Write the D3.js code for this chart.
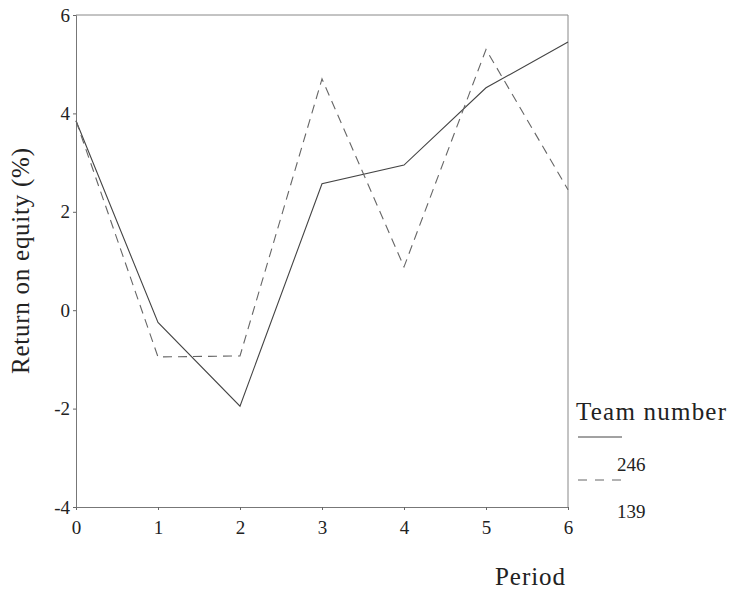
<!DOCTYPE html>
<html>
<head>
<meta charset="utf-8">
<script src="https://cdn.jsdelivr.net/npm/d3@7"></script>
<style>
  body { margin: 0; background: #fff; }
  text { font-family: "Liberation Serif", "DejaVu Serif", serif; fill: #222; }
</style>
</head>
<body>
<div id="container"></div>
<script>
// data
const periods = [0, 1, 2, 3, 4, 5, 6]
const team246 = [3.85, -0.25, -1.95, 2.57, 2.95, 4.52, 5.45]
const team139 = [3.85, -0.95, -0.93, 4.7, 0.88, 5.3, 2.45]
const yTicks = [-4, -2, 0, 2, 4, 6]
const teamNames = ["246", "139"]

const width = 730, height = 590
const margin = { top: 15, left: 76, right: 162, bottom: 83 }

const svg = d3.select("#container")
  .append("svg")
  .attr("width", width)
  .attr("height", height)

const x = d3.scaleLinear()
  .domain([0, 6])
  .range([margin.left, width - margin.right])

const y = d3.scaleLinear()
  .domain([-4, 6])
  .range([height - margin.bottom, margin.top])

// frame (top + right)
svg.append("path")
  .attr("d", `M${x(0)},${y(6)}H${x(6)}V${y(-4)}`)
  .attr("fill", "none")
  .attr("stroke", "#888")
  .attr("stroke-width", 1)

const fmt = d => String(d)   // plain hyphen minus, no decimals

const xAxis = svg.append("g")
  .attr("transform", `translate(0,${y(-4)})`)
  .call(d3.axisBottom(x).tickValues(periods).tickFormat(fmt).tickSize(3).tickPadding(11))
const yAxis = svg.append("g")
  .attr("transform", `translate(${x(0)},0)`)
  .call(d3.axisLeft(y).tickValues(yTicks).tickFormat(fmt).tickSize(3).tickPadding(3))

for (const ax of [xAxis, yAxis]) {
  ax.select(".domain").attr("stroke", "#777")
  ax.selectAll(".tick line").attr("stroke", "#666")
  ax.selectAll(".tick text")
    .style("font-family", "Liberation Serif, serif")
    .style("font-size", "19px")
    .attr("fill", "#222")
}

const line = d3.line()
  .x((d, i) => x(periods[i]))
  .y(d => y(d))

svg.append("path")
  .datum(team246)
  .attr("d", line)
  .attr("fill", "none")
  .attr("stroke", "#444")
  .attr("stroke-width", 1.1)

svg.append("path")
  .datum(team139)
  .attr("d", line)
  .attr("fill", "none")
  .attr("stroke", "#666")
  .attr("stroke-width", 1.1)
  .attr("stroke-dasharray", "9,6")

// axis titles
svg.append("text")
  .attr("transform", `translate(29,${(y(6) + y(-4)) / 2}) rotate(-90)`)
  .attr("text-anchor", "middle")
  .style("font-size", "25px")
  .attr("textLength", 226)
  .text("Return on equity (%)")

svg.append("text")
  .attr("x", 530)
  .attr("y", 585)
  .attr("text-anchor", "middle")
  .style("font-size", "25px")
  .attr("textLength", 70)
  .text("Period")

// legend
const legend = svg.append("g")
legend.append("text")
  .attr("x", 576)
  .attr("y", 420)
  .style("font-size", "25px")
  .attr("textLength", 150)
  .text("Team number")

teamNames.forEach((name, i) => {
  legend.append("line")
    .attr("x1", 578).attr("x2", 622)
    .attr("y1", 437 + i * 43).attr("y2", 437 + i * 43)
    .attr("stroke", i == 0 ? "#444" : "#666")
    .attr("stroke-width", 1)
    .attr("stroke-dasharray", i == 0 ? null : "9,8")
  legend.append("text")
    .attr("x", 617)
    .attr("y", 471 + i * 47)
    .style("font-size", "19px")
    .text(name)
})
</script>
</body>
</html>
